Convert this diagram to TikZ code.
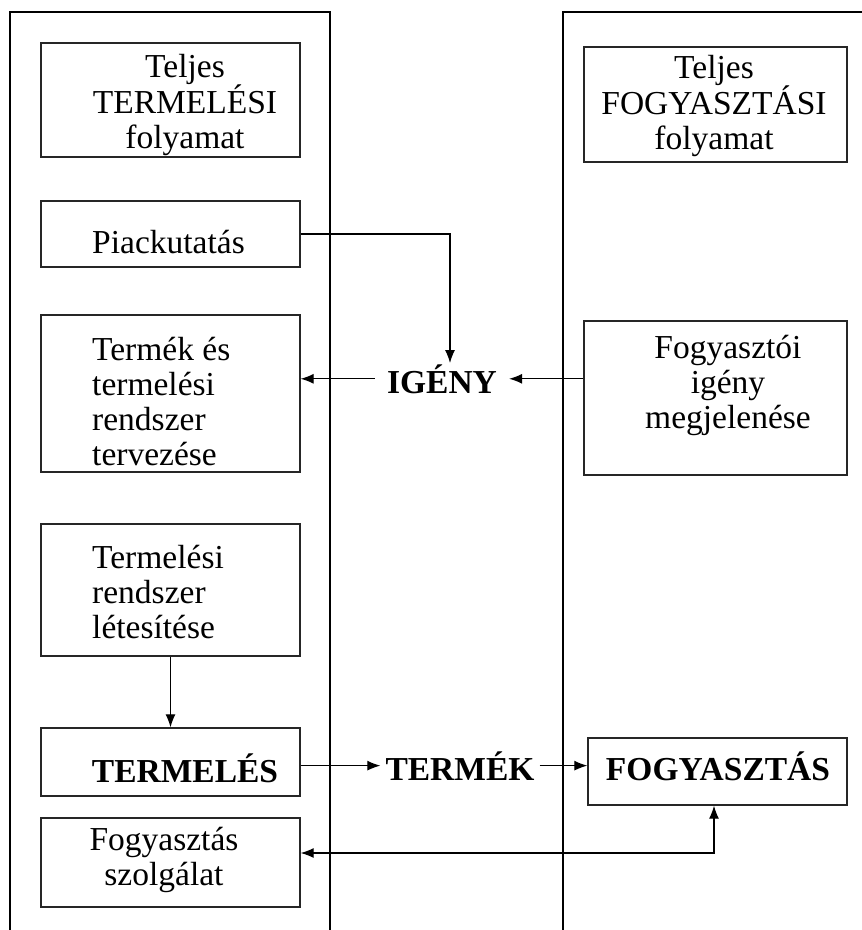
\documentclass[tikz,border=0pt]{standalone}
\usepackage{fontspec}
\setmainfont{Liberation Serif}
\usetikzlibrary{arrows.meta}
\begin{document}
\begin{tikzpicture}[x=1pt,y=-1pt,
  box/.style={draw=black!85,line width=1.3pt,rectangle,inner sep=0pt},
  txt/.style={inner sep=0pt,font=\fontsize{33.5}{35}\selectfont},
  btxt/.style={inner sep=0pt,font=\fontsize{33.5}{35}\selectfont\bfseries},
  col/.style={draw=black,line width=2pt},
  arr/.style={draw=black,line width=1.2pt,-{Latex[length=13pt,width=10pt]}},
  arrtwo/.style={draw=black,line width=1.2pt,{Latex[length=13pt,width=10pt]}-{Latex[length=13pt,width=10pt]}}]
\useasboundingbox (0,0) rectangle (862,930);
\fill[white] (0,0) rectangle (862,930);
% columns
\draw[col] (9.5,930) -- (9.5,12) -- (330,12) -- (330,930);
\draw[col] (563,930) -- (563,12) -- (862,12);
% boxes
\node[box,minimum width=259pt,minimum height=114pt] (b1) at (170.5,100) {};
\node[box,minimum width=263pt,minimum height=115pt] (b2) at (715.5,104.5) {};
\node[box,minimum width=259pt,minimum height=66pt] (pk) at (170.5,234) {};
\node[box,minimum width=259pt,minimum height=157pt] (tk) at (170.5,393.5) {};
\node[box,minimum width=263pt,minimum height=154pt] (fi) at (715.5,398) {};
\node[box,minimum width=259pt,minimum height=132pt] (lt) at (170.5,590) {};
\node[box,minimum width=259pt,minimum height=68pt] (tm) at (170.5,762) {};
\node[box,minimum width=259pt,minimum height=67pt] (fo) at (717.5,771.5) {};
\node[box,minimum width=259pt,minimum height=89pt] (fsz) at (170.5,862.5) {};
% texts
\node[txt,align=center] (t1) at (185,105) {Teljes\\TERMELÉSI\\folyamat};
\node[txt,align=center] (t2) at (714,106) {Teljes\\FOGYASZTÁSI\\folyamat};
\node[txt,anchor=base west] (t3) at (92,253) {Piackutatás};
\node[txt,align=left,anchor=west] (t4) at (92,401.5) {Termék és\\termelési\\rendszer\\tervezése};
\node[txt,align=center] (t5) at (728,385) {Fogyasztói\\igény\\megjelenése};
\node[txt,align=left,anchor=west] (t6) at (92,592) {Termelési\\rendszer\\létesítése};
\node[btxt,anchor=base] (t7) at (185,782) {TERMELÉS};
\node[btxt,anchor=base,inner xsep=5pt] (tk2) at (460,780) {TERMÉK};
\node[btxt,anchor=base] (t9) at (718,780) {FOGYASZTÁS};
\node[btxt,anchor=base,inner xsep=12pt,inner ysep=1pt] (ig) at (442,393) {IGÉNY};
\node[txt,align=center] (t11) at (164,860) {Fogyasztás\\szolgálat};
% connectors
\draw[arr] (pk.east) -| ([xshift=8pt]ig.north);
\draw[arr] (ig.west) -- (ig.west -| tk.east);
\draw[arr] (ig.east -| fi.west) -- (ig.east);
\draw[arr] (lt.south) -- (tm.north);
\draw[arr] (tm.east |- tk2.west) -- (tk2.west);
\draw[arr] (tk2.east) -- (tk2.east -| fo.west);
\coordinate (cc) at (714,853);
\draw[arrtwo] (fo.south -| cc) -- (cc) -- (cc -| fsz.east);
\end{tikzpicture}
\end{document}
